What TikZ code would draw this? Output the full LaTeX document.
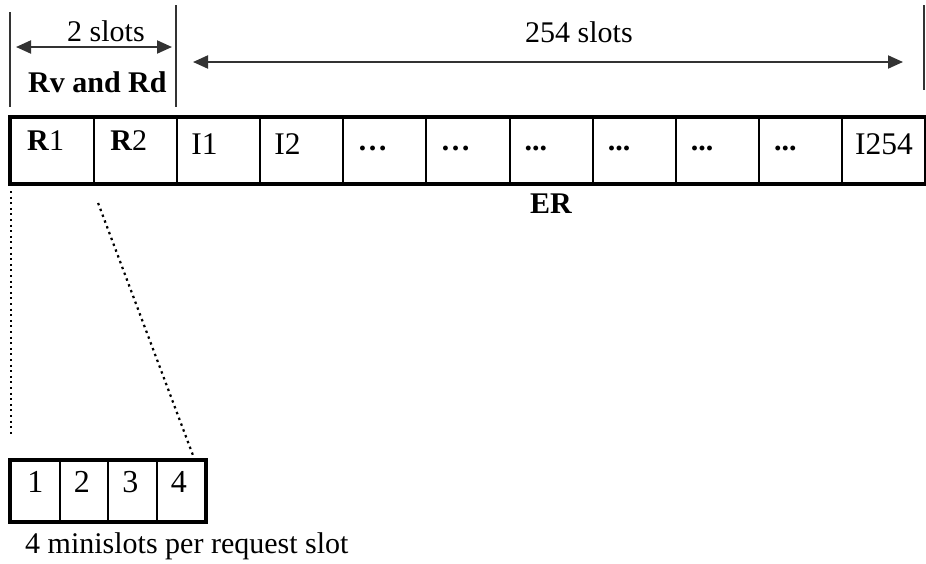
\documentclass[tikz,border=0pt]{standalone}
\usepackage{fontspec}
\setmainfont{Liberation Serif}
\usetikzlibrary{arrows.meta,calc}
\definecolor{arrgray}{HTML}{333333}
\begin{document}
\begin{tikzpicture}[x=1pt,y=-1pt,
  cell/.style={draw,line width=2pt,minimum width=83.09pt,minimum height=65pt,inner sep=0pt,anchor=north west},
  mcell/.style={draw,line width=2pt,minimum width=48.5pt,minimum height=60pt,inner sep=0pt,anchor=north west},
  txt/.style={inner sep=0pt,anchor=base west,font=\fontsize{30}{36}\selectfont},
  itxt/.style={inner sep=0pt,anchor=base west,font=\fontsize{31.5}{38}\selectfont},
  ctxt/.style={inner sep=0pt,anchor=base,font=\fontsize{32}{38}\selectfont},
  bartick/.style={line width=2pt,arrgray},
  dimarrow/.style={line width=2pt,arrgray,{Triangle[length=15pt,width=13pt]}-{Triangle[length=15pt,width=13pt]}},
  dotline/.style={line width=2.2pt,dash pattern=on 2pt off 3.6pt},
  thickframe/.style={line width=3.5pt}]
\useasboundingbox (0,0) rectangle (926,563);
% main bar cells
\foreach \i in {1,...,11}{
  \node[cell] (c\i) at ({10+(\i-1)*83.09},117) {};
}
\draw[thickframe] (c1.north west) rectangle (c11.south east);
% cell texts
\node[txt] (t1) at ($(c1.north west)+(17,33)$) {\textbf{R}1};
\node[txt] (t2) at ($(c2.north west)+(17,33)$) {\textbf{R}2};
\node[itxt] (t3) at ($(c3.north west)+(15,37)$) {I1};
\node[itxt] (t4) at ($(c4.north west)+(15,37)$) {I2};
\node[txt] (t5) at ($(c5.north west)+(15,33)$) {\textbf{\ldots}};
\node[txt] (t6) at ($(c6.north west)+(15,33)$) {\textbf{\ldots}};
\node[txt] (t7) at ($(c7.north west)+(16,33)$) {\textbf{...}};
\node[txt] (t8) at ($(c8.north west)+(16,33)$) {\textbf{...}};
\node[txt] (t9) at ($(c9.north west)+(16,33)$) {\textbf{...}};
\node[txt] (t10) at ($(c10.north west)+(16,33)$) {\textbf{...}};
\node[itxt] (t11) at ($(c11.north west)+(14,37)$) {I254};
\node[txt] (er) at (530,213) {\textbf{ER}};
% top ticks
\coordinate (la) at (10,12);
\coordinate (lb) at (10,107);
\coordinate (ma) at (176,5);
\coordinate (mb) at (176,107);
\coordinate (ra) at (924,5);
\coordinate (rb) at (924,90);
\draw[bartick] (la) -- (lb);
\draw[bartick] (ma) -- (mb);
\draw[bartick] (ra) -- (rb);
% dimension arrows
\coordinate (a1) at (16,47);
\coordinate (a2) at (172,47);
\coordinate (b1) at (193,62);
\coordinate (b2) at (903,62);
\draw[dimarrow] (a1) -- (a2);
\draw[dimarrow] (b1) -- (b2);
\node[txt] (two) at (67,41) {2 slots};
\node[txt] (rvrd) at (28,92) {\textbf{Rv and Rd}};
\node[txt] (n254) at (525,42) {254 slots};
% minislot box
\foreach \i in {1,...,4}{
  \node[mcell] (m\i) at ({10+(\i-1)*48.5},460) {};
}
\draw[thickframe] (m1.north west) rectangle (m4.south east);
\node[ctxt] (mt1) at ($(m1.north)+(0,32)$) {1};
\node[ctxt] (mt2) at ($(m2.north)+(-2,32)$) {2};
\node[ctxt] (mt3) at ($(m3.north)+(-2,32)$) {3};
\node[ctxt] (mt4) at ($(m4.north)+(-2,32)$) {4};
\node[txt] (cap) at (25,553) {4 minislots per request slot};
% dotted connectors
\coordinate (d1a) at ($(c1.south west)+(1,7)$);
\coordinate (d1b) at ($(m1.north west)+(1,-25)$);
\coordinate (d2a) at ($(c2.south west)+(5,19)$);
\coordinate (d2b) at ($(m4.north east)+(-12,-2)$);
\draw[dotline] (d1a) -- (d1b);
\draw[dotline,dash pattern=on 2.4pt off 3.8pt] (d2a) -- (d2b);
\end{tikzpicture}
\end{document}
